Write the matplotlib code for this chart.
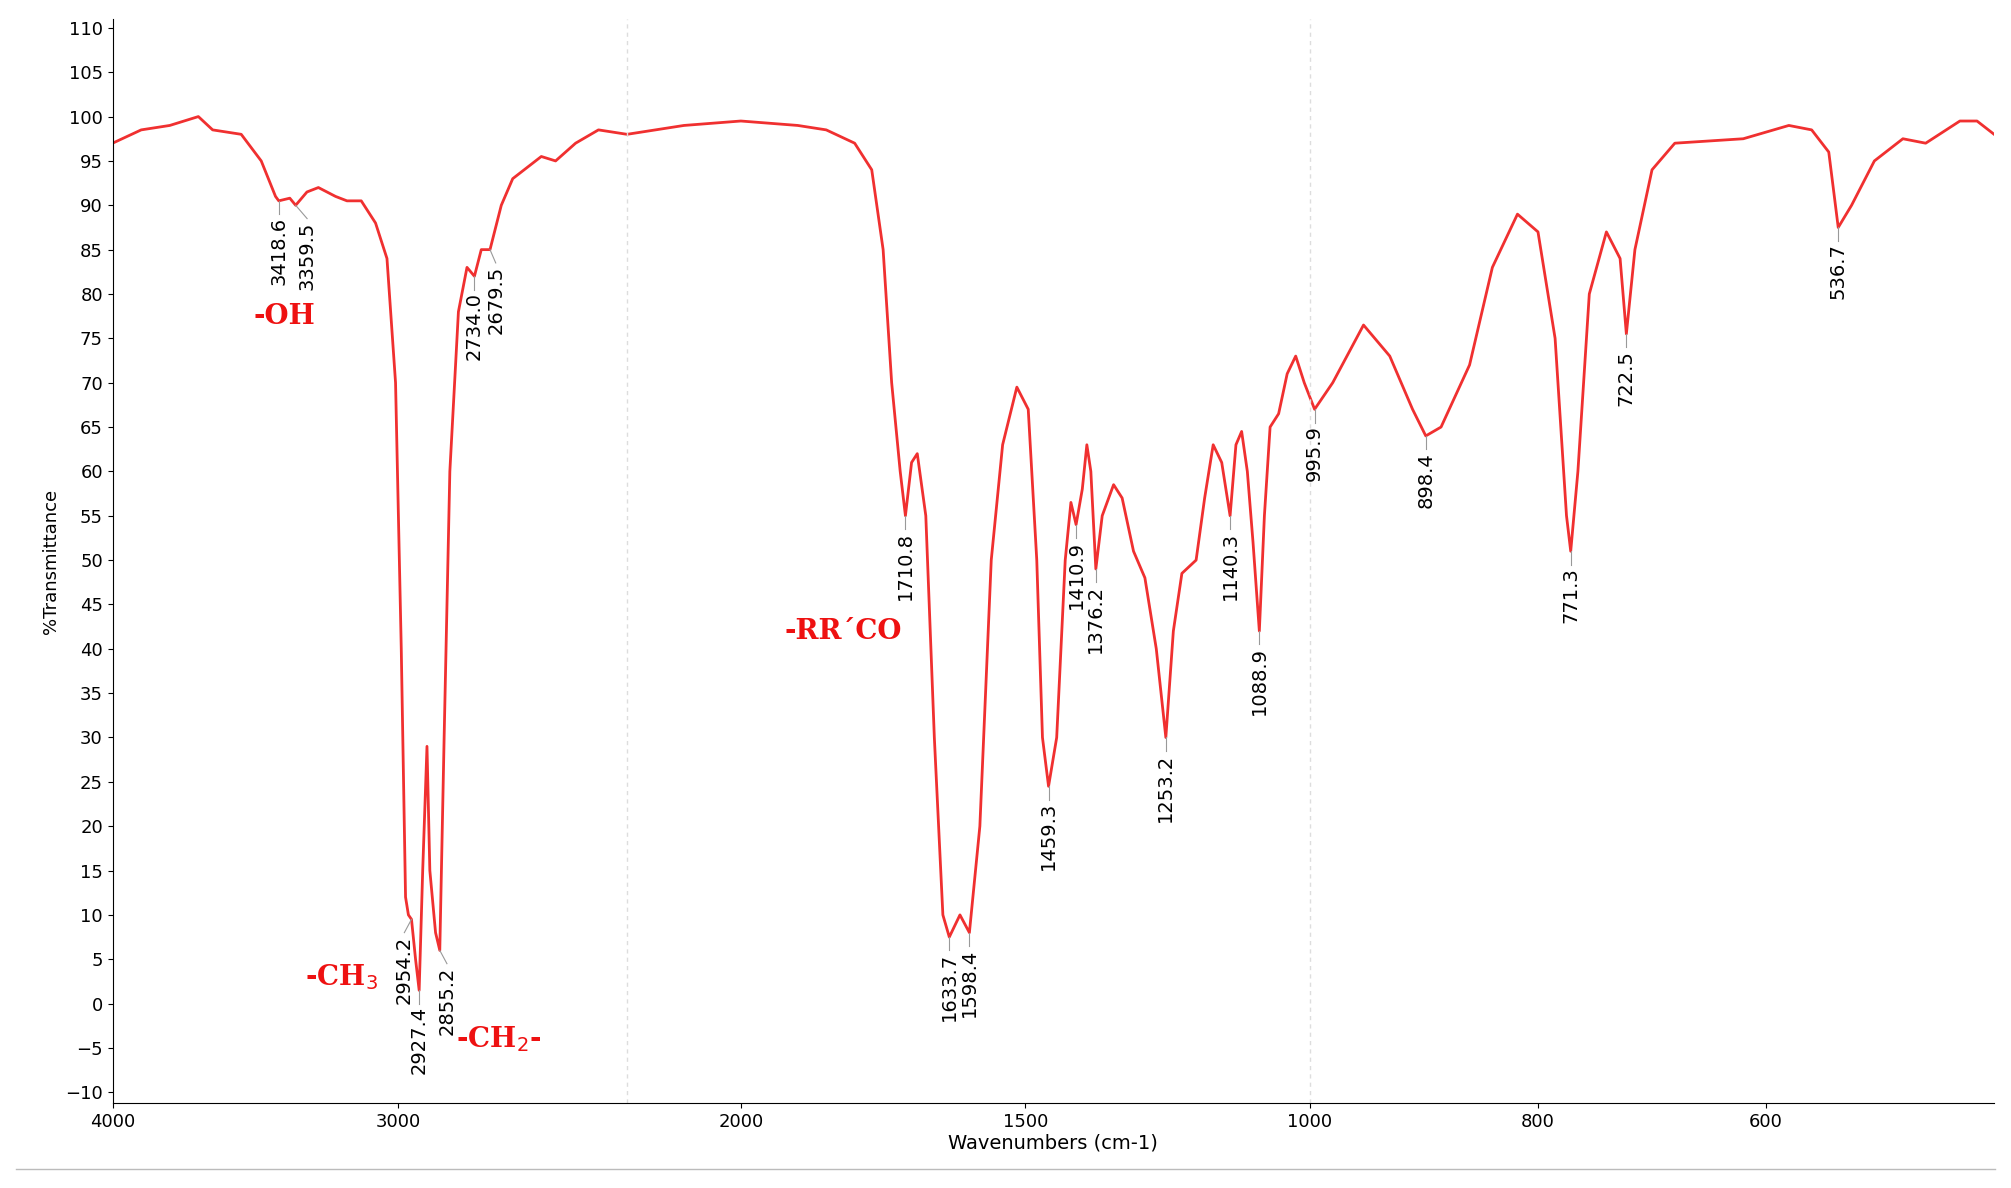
import numpy as np
import matplotlib
matplotlib.use("Agg")
import matplotlib.pyplot as plt

wn = [4000,3900,3800,3700,3650,3550,3480,3430,3418.6,3380,3359.5,3320,3280,3220,3180,3130,3080,3040,3010,2990,2975,2965,2954.2,2940,2927.4,2915,2900,2890,2870,2855.2,2840,2820,2790,2760,2734.0,2710,2679.5,2640,2600,2500,2450,2380,2300,2200,2100,2000,1900,1850,1800,1770,1750,1735,1720,1710.8,1700,1690,1675,1660,1645,1633.7,1615,1598.4,1580,1560,1540,1515,1495,1480,1470,1459.3,1445,1430,1420,1410.9,1400,1392,1385,1376.2,1365,1345,1330,1310,1290,1270,1253.2,1240,1225,1200,1185,1170,1155,1140.3,1130,1120,1110,1100,1088.9,1080,1070,1055,1040,1025,1010,995.9,980,953,930,910,898.4,885,860,840,818,800,785,775,771.3,765,755,740,728,722.5,715,700,680,620,580,560,545,536.7,525,505,480,460,430,415,400]
tr = [97,98.5,99,100,98.5,98,95,91,90.5,90.8,90,91.5,92,91,90.5,90.5,88,84,70,40,12,10,9.5,5,1.5,15,29,15,8,6,30,60,78,83,82,85,85,90,93,95.5,95,97,98.5,98,99,99.5,99,98.5,97,94,85,70,60,55,61,62,55,30,10,7.5,10,8,20,50,63,69.5,67,50,30,24.5,30,50,56.5,54,58,63,60,49,55,58.5,57,51,48,40,30,42,48.5,50,57,63,61,55,63,64.5,60,52,42,55,65,66.5,71,73,70,67,70,76.5,73,67,64,65,72,83,89,87,75,55,51,60,80,87,84,75.5,85,94,97,97.5,99,98.5,96,87.5,90,95,97.5,97,99.5,99.5,98]

peak_labels = ["3418.6","3359.5","2954.2","2927.4","2855.2","2734.0","2679.5","1710.8","1633.7","1598.4","1459.3","1410.9","1376.2","1253.2","1140.3","1088.9","995.9","898.4","771.3","722.5","536.7"]
peak_dx = [0,-40,25,0,-25,0,-20,0,0,0,0,0,0,0,0,0,0,0,0,0,0]
group_labels = ["-OH","-CH$_3$","-CH$_2$-","-RR\u00b4CO"]
group_pos = [(3400,77.5),(3200,3),(2650,-4),(1820,42)]

kx = [4000,2200,1000,400]
kp = [0,400,931,1463]
fwd = lambda x: np.interp(-np.asarray(x,float), [-v for v in kx], kp)
inv = lambda p: -np.interp(np.asarray(p,float), kp, [-v for v in kx])

fig = plt.figure(figsize=(20.11,11.88), dpi=100)
ax = fig.add_axes([0.056,0.0716,0.9356,0.9124])
ax.set_xscale('function', functions=(fwd,inv))
ax.set_xlim(400,4000)
ax.set_ylim(-11.2,111)
ax.plot(wn,tr,color='#f03030',lw=2)
ax.set_xticks([4000,3000,2000,1500,1000,800,600])
ax.set_yticks(np.arange(-10,111,5))
ax.tick_params(labelsize=13)
for v in [2200,1000]:
    ax.axvline(v,color='#dddddd',ls=(0,(3,3)),lw=1)
for s in ['top','right']:
    ax.spines[s].set_visible(False)
ax.set_xlabel('Wavenumbers (cm-1)',fontsize=14,labelpad=2)
ax.set_ylabel('%Transmittance',fontsize=13)
d = dict(zip(wn,tr))
for lab,dx in zip(peak_labels,peak_dx):
    x=float(lab); y=d[x]
    ax.plot([x,x+dx],[y,y-1.5],color='#999999',lw=0.8)
    ax.text(x+dx,y-1.8,lab,rotation=90,ha='center',va='top',fontsize=14)
for lab,(x,y) in zip(group_labels,group_pos):
    ax.text(x,y,lab,color='#ee1111',fontsize=20,fontweight='bold',family='DejaVu Serif',ha='center',va='center')
fig.add_artist(plt.Line2D([0.008,0.992],[0.016,0.016],color='#bbbbbb',lw=1))
fig.savefig('out.png',dpi=100)
